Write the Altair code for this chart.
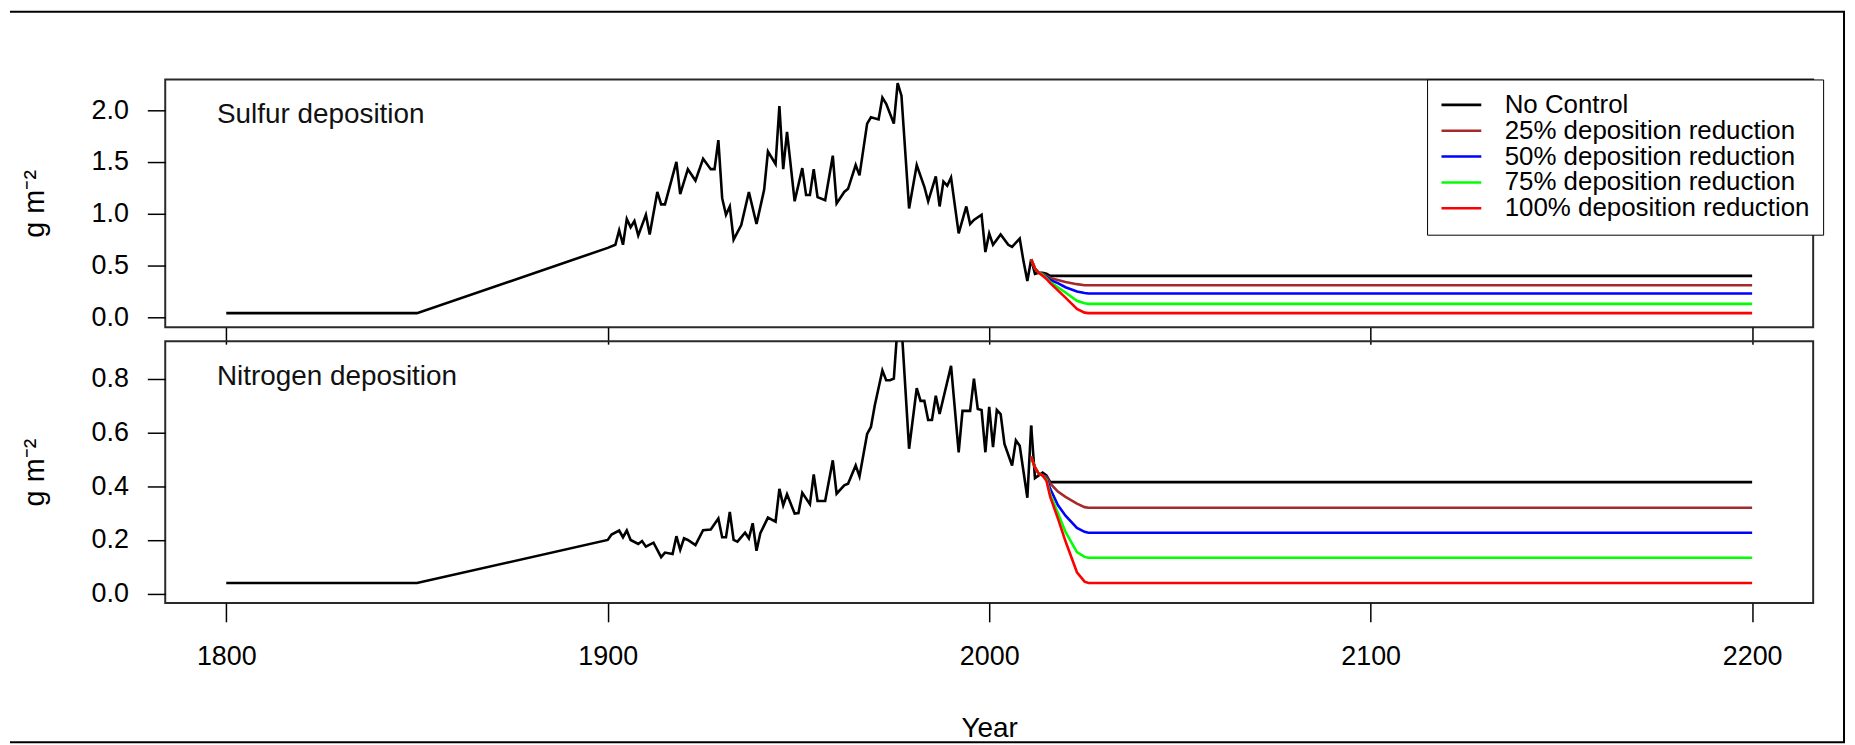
import altair as alt
import pandas as pd

# ---------------- data ----------------
x_ticks = [1800, 1900, 2000, 2100, 2200]
sulfur_ticks = [0.0, 0.5, 1.0, 1.5, 2.0]
nitrogen_ticks = [0.0, 0.2, 0.4, 0.6, 0.8]
panel_titles = ["Sulfur deposition", "Nitrogen deposition"]
y_title = "g m\u207b\u00b2"
x_title = "Year"
scenario_names = ["No Control", "25% deposition reduction", "50% deposition reduction",
                  "75% deposition reduction", "100% deposition reduction"]
scenario_colors = ["#000000", "#A52A2A", "#0000FF", "#00FF00", "#FF0000"]

sulfur_hist_years = [1800, 1850, 1900, 1902, 1903, 1904, 1905, 1906, 1907, 1908,
                     1909, 1910, 1911, 1913, 1914, 1915, 1918, 1919, 1921, 1923,
                     1925, 1927, 1928, 1929, 1930, 1931, 1932, 1933, 1935, 1937,
                     1939, 1941, 1942, 1944, 1945, 1946, 1947, 1949, 1951, 1952,
                     1953, 1954, 1955, 1957, 1959, 1960, 1962, 1963, 1965, 1966,
                     1968, 1969, 1971, 1972, 1973, 1975, 1976, 1977, 1979, 1981,
                     1983, 1984, 1986, 1987, 1988, 1989, 1990, 1992, 1994, 1995,
                     1996, 1998, 1999, 2000, 2001, 2003, 2005, 2006, 2008, 2009,
                     2010, 2011]
sulfur_hist_values = [0.04, 0.04, 0.67, 0.70, 0.84, 0.70, 0.95, 0.87, 0.93, 0.79,
                      0.89, 0.99, 0.80, 1.21, 1.09, 1.09, 1.50, 1.19, 1.43, 1.32,
                      1.53, 1.43, 1.43, 1.71, 1.15, 0.99, 1.07, 0.75, 0.89, 1.21,
                      0.90, 1.23, 1.60, 1.48, 2.04, 1.43, 1.79, 1.12, 1.44, 1.18,
                      1.18, 1.43, 1.16, 1.13, 1.56, 1.10, 1.21, 1.24, 1.47, 1.37,
                      1.87, 1.93, 1.91, 2.12, 2.06, 1.87, 2.26, 2.14, 1.05, 1.47,
                      1.26, 1.12, 1.36, 1.07, 1.31, 1.27, 1.35, 0.81, 1.07, 0.90,
                      0.94, 0.99, 0.63, 0.81, 0.70, 0.80, 0.70, 0.68, 0.76, 0.54,
                      0.35, 0.56]

nitrogen_hist_years = [1800, 1850, 1900, 1901, 1903, 1904, 1905, 1906, 1908, 1909,
                       1910, 1912, 1914, 1915, 1917, 1918, 1919, 1920, 1921, 1923,
                       1925, 1927, 1929, 1930, 1931, 1932, 1933, 1934, 1936, 1937,
                       1938, 1939, 1940, 1942, 1944, 1945, 1946, 1947, 1949, 1950,
                       1951, 1953, 1954, 1955, 1957, 1959, 1960, 1962, 1963, 1965,
                       1966, 1968, 1969, 1970, 1972, 1973, 1974, 1975, 1976, 1977,
                       1979, 1981, 1982, 1983, 1984, 1985, 1986, 1987, 1990, 1992,
                       1993, 1995, 1996, 1997, 1998, 1999, 2000, 2001, 2002, 2003,
                       2004, 2006, 2007, 2008, 2010, 2011]
nitrogen_hist_values = [0.04, 0.04, 0.20, 0.22, 0.235, 0.21, 0.235, 0.20, 0.185, 0.196,
                        0.175, 0.19, 0.136, 0.153, 0.148, 0.214, 0.163, 0.206, 0.20, 0.181,
                        0.236, 0.239, 0.28, 0.21, 0.21, 0.304, 0.20, 0.194, 0.227, 0.206,
                        0.262, 0.16, 0.225, 0.283, 0.268, 0.39, 0.329, 0.37, 0.298, 0.30,
                        0.375, 0.333, 0.444, 0.345, 0.345, 0.496, 0.372, 0.403, 0.409, 0.477,
                        0.436, 0.594, 0.62, 0.70, 0.83, 0.794, 0.794, 0.80, 1.00, 1.00,
                        0.539, 0.764, 0.717, 0.717, 0.646, 0.646, 0.736, 0.668, 0.847, 0.526,
                        0.68, 0.68, 0.80, 0.687, 0.683, 0.526, 0.695, 0.545, 0.683, 0.668,
                        0.557, 0.477, 0.57, 0.55, 0.357, 0.625]

scen_years = [2011, 2012, 2013, 2014, 2015, 2016, 2018, 2020, 2023, 2025, 2026, 2200]

sulfur_no_control = [0.56, 0.42, 0.43, 0.43, 0.42, 0.40, 0.40, 0.40, 0.40, 0.40, 0.40, 0.40]
sulfur_red25 = [0.56, 0.47, 0.43, 0.42, 0.40, 0.38, 0.36, 0.34, 0.32, 0.31, 0.31, 0.31]
sulfur_red50 = [0.56, 0.47, 0.43, 0.41, 0.39, 0.36, 0.33, 0.29, 0.25, 0.235, 0.23, 0.23]
sulfur_red75 = [0.56, 0.47, 0.43, 0.41, 0.38, 0.34, 0.29, 0.24, 0.16, 0.135, 0.13, 0.13]
sulfur_red100 = [0.56, 0.47, 0.43, 0.40, 0.37, 0.33, 0.26, 0.19, 0.08, 0.045, 0.04, 0.04]

nitrogen_no_control = [0.625, 0.43, 0.44, 0.45, 0.44, 0.415, 0.415, 0.415, 0.415, 0.415, 0.415, 0.415]
nitrogen_red25 = [0.51, 0.47, 0.446, 0.44, 0.435, 0.41, 0.38, 0.36, 0.335, 0.322, 0.32, 0.32]
nitrogen_red50 = [0.51, 0.47, 0.446, 0.44, 0.43, 0.39, 0.33, 0.29, 0.245, 0.23, 0.227, 0.227]
nitrogen_red75 = [0.51, 0.47, 0.446, 0.44, 0.425, 0.37, 0.30, 0.23, 0.155, 0.137, 0.134, 0.134]
nitrogen_red100 = [0.51, 0.47, 0.446, 0.44, 0.42, 0.36, 0.28, 0.195, 0.08, 0.045, 0.04, 0.04]

# ---------------- helpers ----------------
FONT = "Liberation Sans"
X_DOMAIN = [1784, 2216]
PANEL_W = 1656
LINE_W = 2.6


def scen_frame(lists):
    rows = []
    for name, vals in zip(scenario_names, lists):
        for yr, v in zip(scen_years, vals):
            rows.append({"year": yr, "value": v, "scenario": name})
    return pd.DataFrame(rows)


def make_panel(hist_years, hist_vals, scen_lists, y_domain, y_ticks, height,
               title_text, bottom_axis, show_legend, extra_layers):
    if bottom_axis:
        x_axis = alt.Axis(values=x_ticks, format="d", title=x_title, grid=False, domain=False,
                          tickSize=19, tickColor="black", tickWidth=1.5,
                          labelFontSize=27, labelColor="black", labelPadding=22,
                          labelFlush=False, labelFont=FONT,
                          titleFontSize=28, titleFont=FONT, titleFontWeight="normal",
                          titleColor="black", titleY=134, titleBaseline="alphabetic")
    else:
        x_axis = alt.Axis(values=x_ticks, labels=False, title=None, grid=False, domain=False,
                          tickSize=17, tickColor="black", tickWidth=1.5)
    x_enc = alt.X("year:Q", scale=alt.Scale(domain=X_DOMAIN, nice=False, zero=False), axis=x_axis)
    y_enc = alt.Y("value:Q",
                  scale=alt.Scale(domain=y_domain, nice=False, zero=False),
                  axis=alt.Axis(values=y_ticks, format=".1f", grid=False, domain=False,
                                tickSize=18, tickColor="black", tickWidth=1.5,
                                labelFontSize=27, labelColor="black", labelPadding=19,
                                labelFont=FONT, labelOverlap=False, labelFlush=False,
                                title=y_title, titleFontSize=29, titleFont=FONT,
                                titleFontWeight="normal", titleColor="black",
                                titleAngle=270, titleX=-122, titleY=height / 2,
                                titleAlign="center", titleBaseline="alphabetic"))

    hist_df = pd.DataFrame({"year": hist_years, "value": hist_vals})
    hist = alt.Chart(hist_df).mark_line(color="black", strokeWidth=LINE_W, clip=True).encode(
        x=x_enc, y=y_enc)

    if show_legend:
        legend = alt.Legend(orient="none", legendX=1268, legendY=0, title=None,
                            strokeColor="black", fillColor="white", padding=13,
                            symbolType="stroke", symbolSize=1600, symbolStrokeWidth=2.6,
                            labelFontSize=26, labelOffset=22, labelLimit=600,
                            labelFont=FONT, labelColor="black",
                            clipHeight=25, rowPadding=-1.6)
    else:
        legend = None
    scen = alt.Chart(scen_frame(scen_lists)).mark_line(strokeWidth=LINE_W, clip=True).encode(
        x=x_enc, y=y_enc,
        color=alt.Color("scenario:N",
                        scale=alt.Scale(domain=scenario_names, range=scenario_colors),
                        sort=scenario_names, legend=legend))

    label = alt.Chart(pd.DataFrame({"label": [title_text]})).mark_text(
        align="left", baseline="alphabetic", fontSize=28, font=FONT, color="#111111"
    ).encode(x=alt.value(52), y=alt.value(44), text="label:N")

    return alt.layer(hist, scen, label, *extra_layers).properties(width=PANEL_W, height=height)


deco_df = pd.DataFrame({"k": [0]})
frame_top = alt.Chart(deco_df).mark_rule(color="black", strokeWidth=2).encode(
    x=alt.value(-156), x2=alt.value(1688), y=alt.value(-68))
frame_right = alt.Chart(deco_df).mark_rule(color="black", strokeWidth=2).encode(
    x=alt.value(1687), y=alt.value(-68), y2=alt.value(666))
frame_bottom = alt.Chart(deco_df).mark_rule(color="black", strokeWidth=2).encode(
    x=alt.value(-156), x2=alt.value(1688), y=alt.value(666))

top = make_panel(sulfur_hist_years, sulfur_hist_values,
                 [sulfur_no_control, sulfur_red25, sulfur_red50, sulfur_red75, sulfur_red100],
                 [-0.096, 2.296], sulfur_ticks, 249, panel_titles[0], False, True,
                 [frame_top, frame_right, frame_bottom])
bottom = make_panel(nitrogen_hist_years, nitrogen_hist_values,
                    [nitrogen_no_control, nitrogen_red25, nitrogen_red50, nitrogen_red75, nitrogen_red100],
                    [-0.034, 0.939], nitrogen_ticks, 263, panel_titles[1], True, False, [])

chart = alt.vconcat(top, bottom, spacing=14, bounds="flush").resolve_scale(
    color="independent").resolve_legend(color="independent").properties(
    padding=0, background="white"
).configure(font=FONT).configure_view(stroke="#2a2a2a", strokeWidth=2)

chart.save("out.html", embed_options={"renderer": "svg", "actions": False})
